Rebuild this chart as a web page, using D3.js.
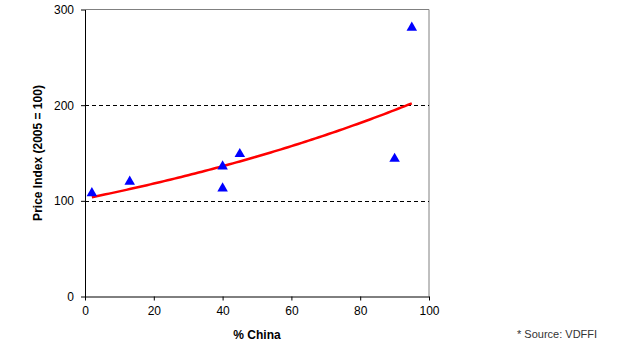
<!DOCTYPE html>
<html>
<head>
<meta charset="utf-8">
<script src="https://cdn.jsdelivr.net/npm/d3@7"></script>
<style>
  body { margin: 0; background: #fff; }
  text { font-family: "Liberation Sans", Arial, sans-serif; }
</style>
</head>
<body>
<div id="viz"></div>
<script>
const shareChina = [2, 13, 40, 40, 45, 90, 95];
const priceIndex = [108, 120, 113, 136, 149, 144, 281];
const xTicks = [0, 20, 40, 60, 80, 100];
const yTicks = [0, 100, 200, 300];
const gridValues = [100, 200];

const width = 622, height = 355;
const margin = { left: 85, right: 193, top: 9.5, bottom: 58.5 };

const svg = d3.select("#viz").append("svg")
    .attr("width", width)
    .attr("height", height);

const xScale = d3.scaleLinear()
    .domain([0, 100])
    .range([margin.left, width - margin.right]);

const yScale = d3.scaleLinear()
    .domain([0, 300])
    .range([height - margin.bottom, margin.top]);

// plot frame (top/right gray)
svg.append("path")
    .attr("d", `M${xScale(0)},${yScale(300)}H${xScale(100)}V${yScale(0)}`)
    .attr("fill", "none")
    .attr("stroke", "#808080");

// dashed gridlines
svg.selectAll(".grid")
    .data(gridValues)
    .join("line")
        .attr("class", "grid")
        .attr("x1", xScale(0))
        .attr("x2", xScale(100))
        .attr("y1", d => Math.round(yScale(d)) + 0.5)
        .attr("y2", d => Math.round(yScale(d)) + 0.5)
        .attr("stroke", "#000")
        .attr("stroke-dasharray", "4,3");

const xAxis = svg.append("g")
    .attr("transform", `translate(0,${yScale(0)})`)
    .call(d3.axisBottom(xScale).tickValues(xTicks).tickSize(4).tickSizeOuter(0).tickPadding(6));

const yAxis = svg.append("g")
    .attr("transform", `translate(${xScale(0)},0)`)
    .call(d3.axisLeft(yScale).tickValues(yTicks).tickSize(4).tickSizeOuter(0).tickPadding(7));

[xAxis, yAxis].forEach(ax => {
    ax.selectAll("text").style("font-size", "12px").attr("fill", "#000");
    ax.selectAll("line, path").attr("stroke", "#000");
});

// exponential trendline (least squares on log values)
const n = shareChina.length;
const lnY = priceIndex.map(Math.log);
const mx = d3.mean(shareChina), my = d3.mean(lnY);
const b = d3.sum(shareChina, (x, i) => (x - mx) * (lnY[i] - my)) /
          d3.sum(shareChina, x => (x - mx) * (x - mx));
const a = Math.exp(my - b * mx);
const trend = d3.range(d3.min(shareChina), d3.max(shareChina) + 0.01, 1)
    .map(x => [x, a * Math.exp(b * x)]);

svg.append("path")
    .datum(trend)
    .attr("fill", "none")
    .attr("stroke", "#ff0000")
    .attr("stroke-width", 2.5)
    .attr("d", d3.line().x(d => xScale(d[0])).y(d => yScale(d[1])));

// data points
svg.selectAll(".pt")
    .data(shareChina)
    .join("path")
        .attr("class", "pt")
        .attr("transform", (d, i) => `translate(${xScale(d)},${yScale(priceIndex[i])})`)
        .attr("d", d3.symbol(d3.symbolTriangle, 48))
        .attr("fill", "#0000ff");

// titles
svg.append("text")
    .attr("x", (xScale(0) + xScale(100)) / 2)
    .attr("y", 339)
    .attr("text-anchor", "middle")
    .style("font-size", "12px")
    .style("font-weight", "bold")
    .text("% China");

svg.append("text")
    .attr("transform", `translate(42,${(yScale(0) + yScale(300)) / 2}) rotate(-90)`)
    .attr("text-anchor", "middle")
    .style("font-size", "12px")
    .style("font-weight", "bold")
    .text("Price Index (2005 = 100)");

svg.append("text")
    .attr("x", 517)
    .attr("y", 338)
    .style("font-size", "11px")
    .attr("fill", "#333")
    .text("* Source: VDFFI");
</script>
</body>
</html>
